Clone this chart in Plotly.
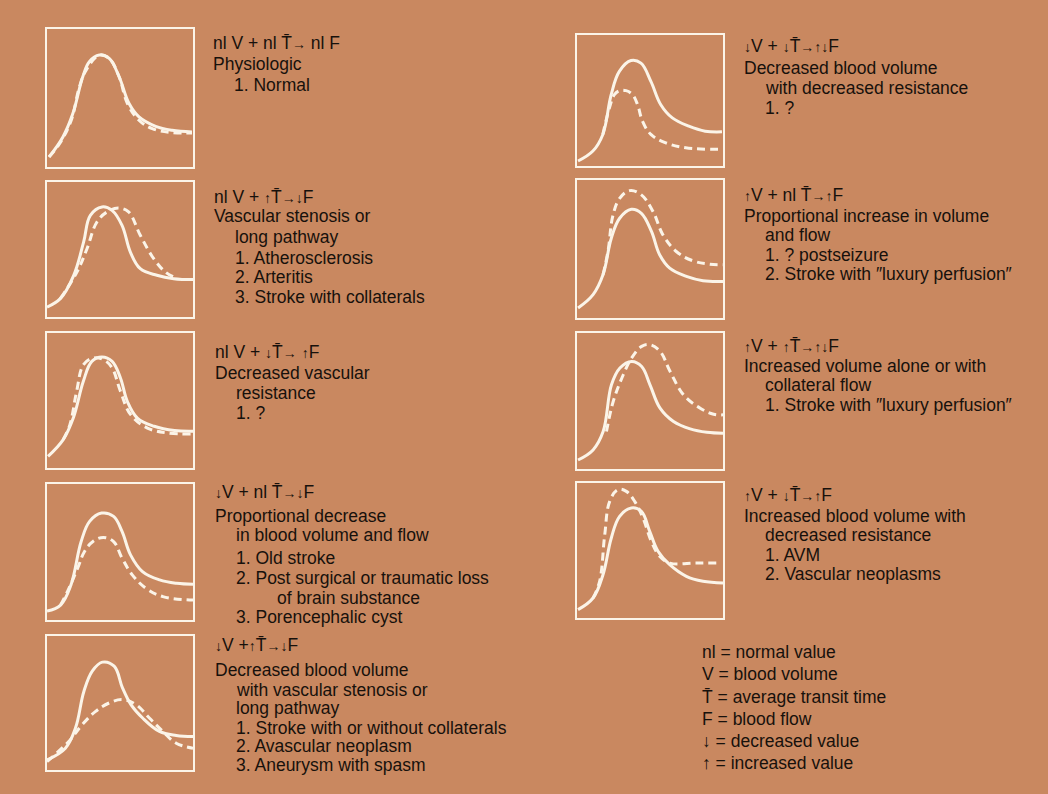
import plotly.graph_objects as go

# ---- curve data: (time, concentration), 0-100 scale ----
normal_solid = [(1.4, 7.3), (10.9, 21.8), (17.7, 38.7), (24.5, 65.4), (29, 76.3), (35.8, 81.1),
                (42.6, 78.7), (49.4, 65.4), (56.2, 46), (63, 36.3), (74.4, 29.5), (85.7, 26.6), (99.3, 25.4)]
normal_dash = [(1.4, 7.3), (8.6, 16.9), (16.6, 33.9), (22.2, 58.1), (26.8, 70.2), (35.8, 81.1),
               (42.6, 78.7), (49.4, 65.4), (55.1, 46), (63, 33.9), (72.1, 27.8), (85.7, 24.9), (99.3, 24.7)]

stenosis_solid = [(0, 7.4), (9.1, 13.6), (18.3, 30.9), (25.1, 55.6), (29.7, 75.3), (37.7, 81.5),
                  (44.5, 79), (51.4, 67.9), (57.1, 48.1), (63.9, 35.8), (75.3, 30.9), (86.8, 28.4), (100, 27.7)]
stenosis_dash = [(9.1, 13.6), (20.5, 33.3), (27.4, 50.6), (34.2, 70.4), (41.1, 77.8), (49, 80.7),
                 (55.9, 77.8), (63.9, 60.5), (73.1, 43.2), (81.1, 33.3), (86.8, 29.6)]

lowres_solid = [(0.7, 8.6), (11.1, 21), (18, 37), (24.9, 64.2), (30.7, 79), (37.6, 82.2),
                (44.6, 79), (50.3, 66.7), (55, 49.4), (61.9, 37), (73.4, 30.9), (87.3, 27.7), (100, 27.2)]
lowres_dash = [(11.1, 21), (15.7, 32.1), (20.3, 56.8), (25, 76.5), (31.9, 81.5), (38.8, 80.2),
               (44.6, 74.1), (50.3, 56.8), (57.3, 39.5), (68.8, 29.6), (82.7, 25.9), (100, 25.2)]

propdec_solid = [(0, 6.6), (9.3, 11), (16.4, 25.8), (23.4, 57.7), (29.2, 72.5), (37.4, 78.6),
                 (45.6, 76.2), (51.4, 65.1), (57.2, 47.9), (65.4, 35.6), (77.1, 29.5), (88.8, 27), (100, 26.3)]
propdec_dash = [(9.3, 11), (14, 20.9), (21, 38.1), (25.7, 50.4), (31.5, 57.7), (38.6, 60.7),
                (45.6, 57.7), (51.4, 45.5), (58.4, 33.2), (67.8, 23.3), (79.4, 17.2), (100, 14.7)]

decsten_solid = [(0, 7.5), (12.6, 16.3), (19.5, 31.3), (25.3, 58.8), (31, 73.8), (37.9, 80.5),
                 (46, 77.5), (51.7, 61.3), (57.5, 48.8), (65.5, 38.8), (77, 28.8), (88.5, 25.8), (100, 25)]
decsten_dash = [(0, 6.3), (14.9, 21.3), (24.1, 33.8), (33.3, 43.8), (42.5, 50), (51.7, 52.5),
                (60.9, 48.8), (70.1, 38.8), (79.3, 28.8), (88.5, 20), (100, 16.3)]

decres_solid = [(0.7, 3.8), (10.9, 11.4), (17.7, 24.1), (23.4, 54.4), (29, 72.2), (37, 80.5),
                (43.8, 78.5), (50.6, 64.6), (57.4, 46.8), (65.3, 36.7), (76.6, 30.4), (87.8, 26.6), (99.3, 26.1)]
decres_dash = [(17.7, 24.1), (22.2, 44.3), (25.6, 54.4), (29, 57.5), (33.6, 57.5), (38.1, 54.4),
               (41.5, 46.8), (44.9, 34.2), (50.6, 24.1), (60.8, 17.7), (74.4, 13.9), (99.3, 12.7)]

propinc_solid = [(0.7, 7.2), (11, 16.9), (17.8, 31.3), (23.5, 57.8), (29.2, 72.3), (37.2, 78.8),
                 (44.1, 75.9), (51, 62.7), (56.6, 45.8), (63.5, 36.1), (74.9, 30.1), (86.3, 27), (100, 26.5)]
propinc_dash = [(17.8, 31.3), (21.2, 48.2), (24.7, 74.7), (29.2, 86.7), (36.1, 92.3), (44.1, 89.2),
                (52.1, 77.1), (58.9, 60.2), (68, 48.2), (79.5, 41.4), (90.9, 39), (100, 38.6)]

incvol_solid = [(0.7, 6.6), (11, 14), (17.9, 27.5), (23.6, 61.9), (29.4, 74.2), (37.4, 79.1),
                (44.3, 75.4), (50, 61.9), (56.9, 44.7), (66.1, 34.9), (77.5, 29.5), (89, 27), (100, 26.3)]
incvol_dash = [(20.2, 27.5), (24.8, 49.6), (31.7, 69.3), (37.4, 81.6), (44.3, 90.2), (50, 91.4),
               (56.9, 86.5), (63.8, 71.7), (73, 54.5), (84.4, 44.7), (93.6, 40.3), (100, 39.8)]

avm_solid = [(0.7, 6.2), (11, 14.8), (17.8, 32.1), (23.5, 59.3), (29.2, 75.3), (37.2, 81.5),
             (44.1, 79), (49.8, 64.2), (55.5, 49.4), (63.5, 39.5), (74.9, 30.9), (86.3, 27.2), (100, 25.9)]
avm_dash = [(11, 14.8), (15.5, 27.2), (19, 61.7), (22.4, 86.4), (28.1, 95.1), (33.8, 93.8),
            (39.5, 86.4), (45.2, 74.1), (50.9, 56.8), (56.6, 45.7), (63.5, 40.7), (81.7, 40.7), (95.4, 40.7)]

# ---- texts ----
UP = "<span style='font-size:14px'>↑</span>"
DN = "<span style='font-size:14px'>↓</span>"
UD = "<span style='font-size:14px'>↑↓</span>"
AR = "<span style='font-size:14px'>→</span>"
TB = "T\u0304"

normal_text = [f"nl V + nl {TB}{AR} nl F", "Physiologic", "   1. Normal"]
stenosis_text = [f"nl V + {UP}{TB}{AR}{DN}F", "Vascular stenosis or", "   long pathway",
                 "   1. Atherosclerosis", "   2. Arteritis", "   3. Stroke with collaterals"]
lowres_text = [f"nl V + {DN}{TB}{AR} {UP}F", "Decreased vascular", "   resistance", "   1. ?"]
propdec_text = [f"{DN}V + nl {TB}{AR}{DN}F", "Proportional decrease", "   in blood volume and flow",
                "   1. Old stroke", "   2. Post surgical or traumatic loss", "         of brain substance",
                "   3. Porencephalic cyst"]
decsten_text = [f"{DN}V +{UP}{TB}{AR}{DN}F", "Decreased blood volume", "   with vascular stenosis or",
                "   long pathway", "   1. Stroke with or without collaterals", "   2. Avascular neoplasm",
                "   3. Aneurysm with spasm"]
decres_text = [f"{DN}V + {DN}{TB}{AR}{UD}F", "Decreased blood volume", "   with decreased resistance", "   1. ?"]
propinc_text = [f"{UP}V + nl {TB}{AR}{UP}F", "Proportional increase in volume", "   and flow",
                "   1. ? postseizure", "   2. Stroke with \u2033luxury perfusion\u2033"]
incvol_text = [f"{UP}V + {UP}{TB}{AR}{UD}F", "Increased volume alone or with", "   collateral flow",
               "   1. Stroke with \u2033luxury perfusion\u2033"]
avm_text = [f"{UP}V + {DN}{TB}{AR}{UP}F", "Increased blood volume with", "   decreased resistance",
            "   1. AVM", "   2. Vascular neoplasms"]
key_text = ["nl = normal value", "V = blood volume", f"{TB} = average transit time", "F = blood flow",
            "↓ = decreased value", "↑ = increased value"]

# ---- layout (pixels) ----
W, H = 1048, 794
BG = "#C98860"
INK = "#17110c"
LINE = "#FBF4E8"
FS = 17.5

panels = [
    # solid, dashed, text, box (x0, x1, y0, y1), text x, line y centres
    (normal_solid, normal_dash, normal_text, (47, 193, 29, 167), 211, [43, 64, 85]),
    (stenosis_solid, stenosis_dash, stenosis_text, (47, 193, 182, 317), 212, [197, 216, 237, 258, 277, 297]),
    (lowres_solid, lowres_dash, lowres_text, (47, 193, 333, 468), 213, [352, 373, 393, 413]),
    (propdec_solid, propdec_dash, propdec_text, (47, 193, 484, 620), 213, [492, 516, 535, 558, 578, 598, 617]),
    (decsten_solid, decsten_dash, decsten_text, (47, 193, 636, 770), 213, [645, 670, 690, 708, 728, 746, 765]),
    (decres_solid, decres_dash, decres_text, (577, 723, 35, 166), 742, [46, 68, 88, 108]),
    (propinc_solid, propinc_dash, propinc_text, (577, 723, 180, 318), 742, [195, 216, 235, 255, 274]),
    (incvol_solid, incvol_dash, incvol_text, (577, 723, 333, 469), 742, [346, 366, 385, 405]),
    (avm_solid, avm_dash, avm_text, (577, 723, 483, 618), 742, [495, 516, 535, 555, 574]),
]

fig = go.Figure()
annotations = []
layout_axes = {}

for i, (solid, dash, text, box, tx, ty) in enumerate(panels, start=1):
    x0, x1, y0, y1 = box
    xa = "x" if i == 1 else f"x{i}"
    ya = "y" if i == 1 else f"y{i}"
    for pts, style in ((dash, "8px,5px"), (solid, "solid")):
        fig.add_trace(go.Scatter(
            x=[p[0] for p in pts], y=[p[1] for p in pts], mode="lines",
            line=dict(color=LINE, width=3, dash=style, shape="spline", smoothing=1.1),
            xaxis=xa, yaxis=ya, showlegend=False, hoverinfo="skip"))
    ax = dict(range=[0, 100], showgrid=False, zeroline=False, showticklabels=False, ticks="",
              showline=True, mirror=True, linecolor=LINE, linewidth=1.6, fixedrange=True)
    layout_axes["xaxis" if i == 1 else f"xaxis{i}"] = dict(ax, domain=[x0 / W, x1 / W], anchor=ya)
    layout_axes["yaxis" if i == 1 else f"yaxis{i}"] = dict(ax, domain=[1 - y1 / H, 1 - y0 / H], anchor=xa)

    for line, yc in zip(text, ty):
        n = len(line) - len(line.lstrip(" "))
        indent = {0: 0, 3: 21, 9: 62}.get(n, 0)
        annotations.append(dict(
            x=(tx + indent) / W, y=1 - yc / H, xref="paper", yref="paper",
            xanchor="left", yanchor="middle", showarrow=False, text=line.strip(),
            font=dict(size=FS, color=INK)))

for line, yc in zip(key_text, [652, 674, 697, 719, 741, 763]):
    annotations.append(dict(
        x=700 / W, y=1 - yc / H, xref="paper", yref="paper", xanchor="left", yanchor="middle",
        showarrow=False, text=line, font=dict(size=FS, color=INK)))

fig.update_layout(
    width=W, height=H, margin=dict(l=0, r=0, t=0, b=0),
    paper_bgcolor=BG, plot_bgcolor=BG,
    font=dict(family="Liberation Sans, Arial, sans-serif", color=INK),
    annotations=annotations, **layout_axes)

fig.write_html("out.html", config={"displayModeBar": False},
               post_script="document.body.style.margin='0';document.body.style.overflow='hidden';")
